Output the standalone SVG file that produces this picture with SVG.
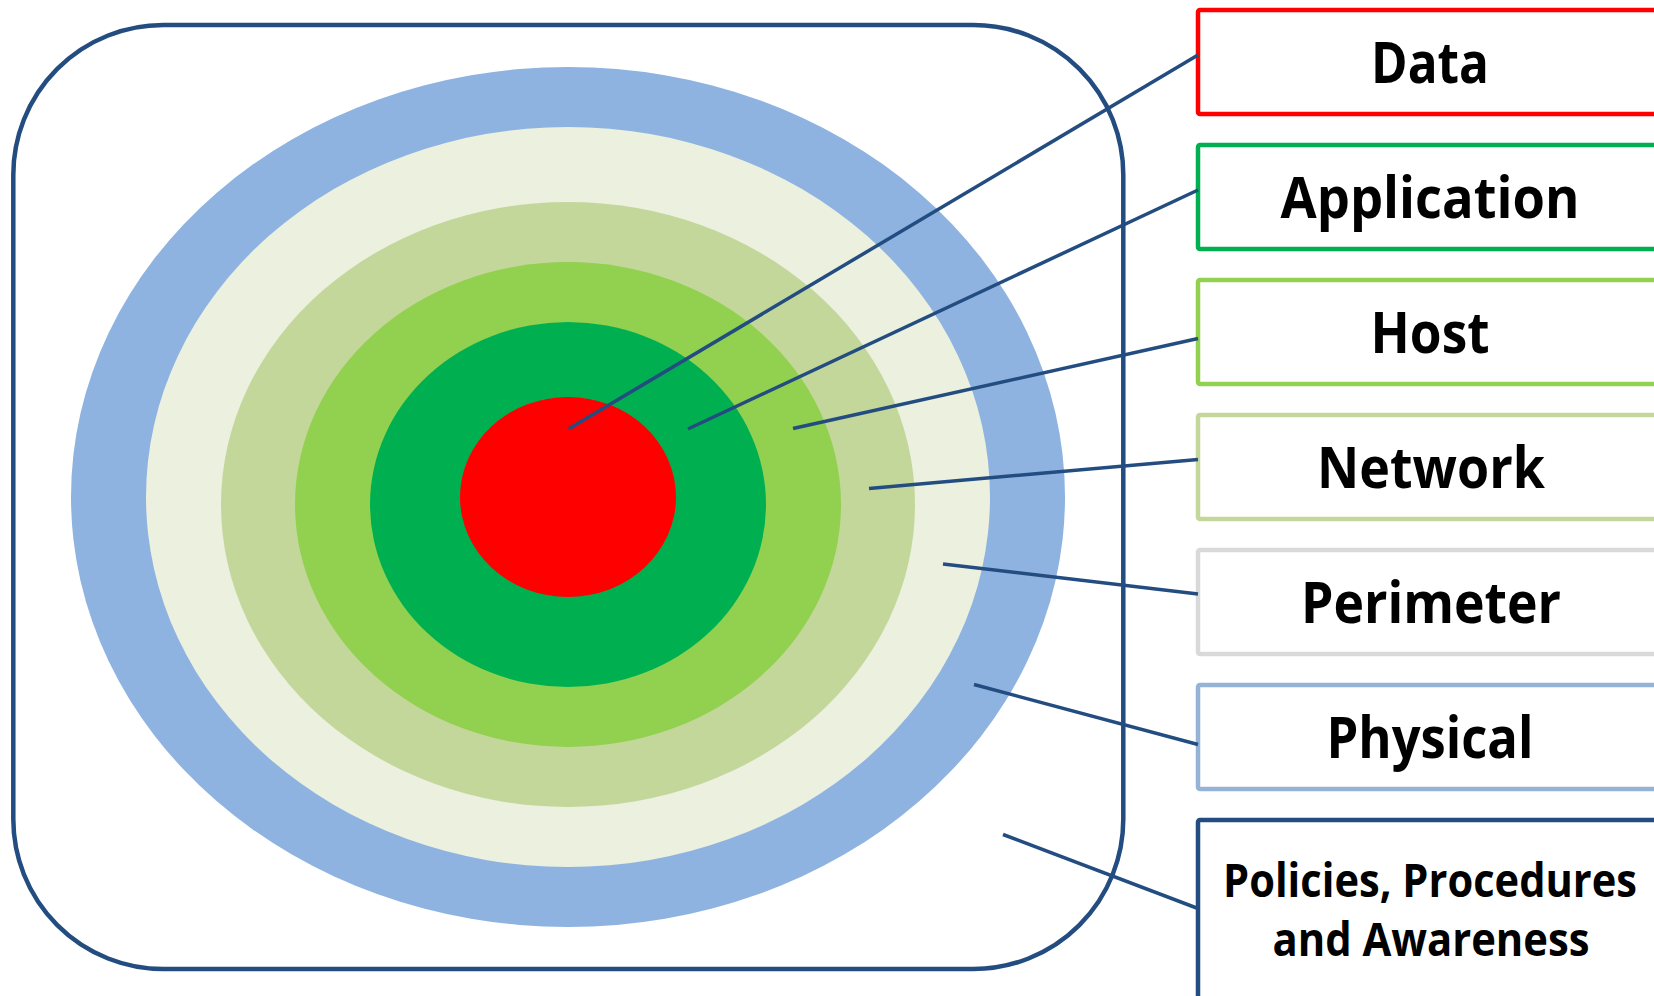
<svg xmlns="http://www.w3.org/2000/svg" width="1654" height="996" viewBox="0 0 1654 996">
<style>
.box{fill:#ffffff;stroke-width:4.5}
.lbl{font-family:"Open Sans","Liberation Sans",sans-serif;font-weight:bold;font-size:58px;fill:#000000;text-anchor:middle}
.lbl2{font-family:"Open Sans","Liberation Sans",sans-serif;font-weight:bold;font-size:46px;fill:#000000;text-anchor:middle}
.con{stroke:#234d80;stroke-width:3.5;fill:none;stroke-linecap:butt}
</style>
<rect width="1654" height="996" fill="#ffffff"/>
<g id="frame">
<rect x="13.3" y="25" width="1110" height="944" rx="150" ry="150" fill="#ffffff" stroke="#234d80" stroke-width="4.5"/>
</g>
<g id="rings">
<ellipse id="ring-physical" cx="568" cy="497" rx="497" ry="430" fill="#8eb3e1"/>
<ellipse id="ring-perimeter" cx="568" cy="497" rx="422" ry="370" fill="#ebf0df"/>
<ellipse id="ring-network" cx="568" cy="504.5" rx="347" ry="302.5" fill="#c4d79b"/>
<ellipse id="ring-host" cx="568" cy="504.5" rx="273" ry="242.5" fill="#92d050"/>
<ellipse id="ring-application" cx="568" cy="504.5" rx="198" ry="182.5" fill="#00b050"/>
<ellipse id="ring-data" cx="568" cy="497" rx="108" ry="100" fill="#ff0000"/>
</g>
<g id="node-data">
<rect class="box" x="1198" y="10" width="480" height="104" rx="2" stroke="#ff0000"/>
<text class="lbl" x="1430" y="83" textLength="118" lengthAdjust="spacingAndGlyphs">Data</text>
</g>
<g id="node-application">
<rect class="box" x="1198" y="145" width="480" height="104" rx="2" stroke="#00b050"/>
<text class="lbl" x="1430" y="218" textLength="299" lengthAdjust="spacingAndGlyphs">Application</text>
</g>
<g id="node-host">
<rect class="box" x="1198" y="280" width="480" height="104" rx="2" stroke="#92d050"/>
<text class="lbl" x="1430" y="353" textLength="119" lengthAdjust="spacingAndGlyphs">Host</text>
</g>
<g id="node-network">
<rect class="box" x="1198" y="415" width="480" height="104" rx="2" stroke="#c4d79b"/>
<text class="lbl" x="1431" y="488" textLength="228" lengthAdjust="spacingAndGlyphs">Network</text>
</g>
<g id="node-perimeter">
<rect class="box" x="1198" y="550" width="480" height="104" rx="2" stroke="#d9d9d9"/>
<text class="lbl" x="1431" y="623" textLength="260" lengthAdjust="spacingAndGlyphs">Perimeter</text>
</g>
<g id="node-physical">
<rect class="box" x="1198" y="685" width="480" height="104" rx="2" stroke="#95b3d7"/>
<text class="lbl" x="1430" y="758" textLength="207" lengthAdjust="spacingAndGlyphs">Physical</text>
</g>
<g id="node-policies">
<rect class="box" x="1198" y="820" width="480" height="220" rx="2" stroke="#234d80"/>
<text class="lbl2" x="1430" y="897" textLength="414" lengthAdjust="spacingAndGlyphs">Policies, Procedures</text>
<text class="lbl2" x="1431" y="956" textLength="317" lengthAdjust="spacingAndGlyphs">and Awareness</text>
</g>
<g id="connectors">
<line class="con" x1="568.5" y1="429" x2="1198" y2="55"/>
<line class="con" x1="688" y1="429" x2="1198" y2="190"/>
<line class="con" x1="793" y1="428.5" x2="1198" y2="338.5"/>
<line class="con" x1="869" y1="488.5" x2="1198" y2="459.5"/>
<line class="con" x1="943" y1="564" x2="1198" y2="594"/>
<line class="con" x1="974" y1="684.5" x2="1198" y2="744.5"/>
<line class="con" x1="1003" y1="834.5" x2="1198" y2="908.5"/>
</g>
</svg>
